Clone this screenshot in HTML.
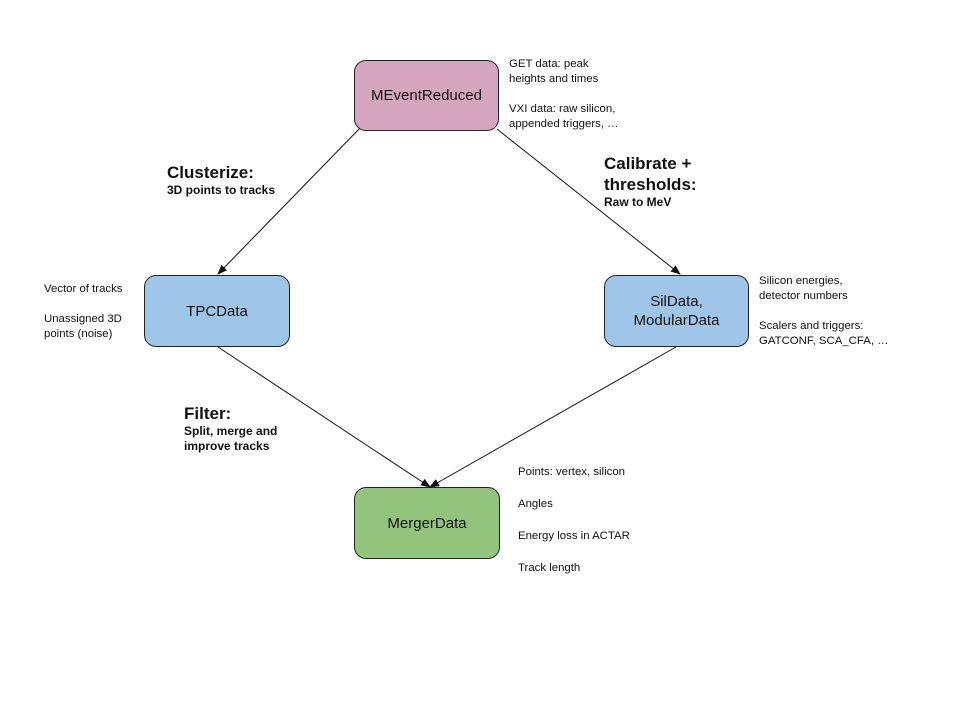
<!DOCTYPE html>
<html><head><style>
body{margin:0;width:960px;height:720px;background:#fff;position:relative;font-family:"Liberation Sans",sans-serif;color:#111;overflow:hidden}
.b{position:absolute;border:1.3px solid #222;border-radius:12px;display:flex;align-items:center;justify-content:center;text-align:center;font-size:15px;line-height:19px;box-sizing:border-box}
.t{position:absolute;font-size:11.4px;line-height:15px;white-space:nowrap}
.h{position:absolute;font-size:17px;font-weight:bold;line-height:21px;white-space:nowrap}
.h small{display:block;font-size:12px;line-height:15px}
</style></head><body>
<svg width="960" height="720" style="position:absolute;left:0;top:0">
<defs><marker id="a" markerWidth="10" markerHeight="8" refX="9" refY="4" orient="auto" markerUnits="userSpaceOnUse"><path d="M0,0L10,4L0,8z" fill="#111"/></marker></defs>
<g stroke="#111" stroke-width="1" fill="none">
<line x1="361" y1="127" x2="218" y2="274" marker-end="url(#a)"/>
<line x1="497" y1="129" x2="680" y2="274" marker-end="url(#a)"/>
<line x1="218" y1="347" x2="430" y2="487" marker-end="url(#a)"/>
<line x1="676" y1="347" x2="430" y2="487" marker-end="url(#a)"/>
</g></svg>
<div class="b" style="left:354px;top:60px;width:145px;height:71px;background:#d5a6bd">MEventReduced</div>
<div class="b" style="left:144px;top:275px;width:146px;height:72px;background:#9fc5e8">TPCData</div>
<div class="b" style="left:604px;top:275px;width:145px;height:72px;background:#9fc5e8">SilData,<br>ModularData</div>
<div class="b" style="left:354px;top:487px;width:146px;height:72px;background:#93c47d">MergerData</div>
<div class="t" style="left:509px;top:57px">GET data: peak<br>heights and times<br><br>VXI data: raw silicon,<br>appended triggers, …</div>
<div class="t" style="left:44px;top:282px">Vector of tracks<br><br>Unassigned 3D<br>points (noise)</div>
<div class="t" style="left:759px;top:274px">Silicon energies,<br>detector numbers<br><br>Scalers and triggers:<br>GATCONF, SCA_CFA, …</div>
<div class="t" style="left:518px;top:464px;line-height:16px">Points: vertex, silicon<br><br>Angles<br><br>Energy loss in ACTAR<br><br>Track length</div>
<div class="h" style="left:167px;top:162px">Clusterize:<small>3D points to tracks</small></div>
<div class="h" style="left:604px;top:153px">Calibrate +<br>thresholds:<small>Raw to MeV</small></div>
<div class="h" style="left:184px;top:403px">Filter:<small>Split, merge and<br>improve tracks</small></div>
</body></html>
